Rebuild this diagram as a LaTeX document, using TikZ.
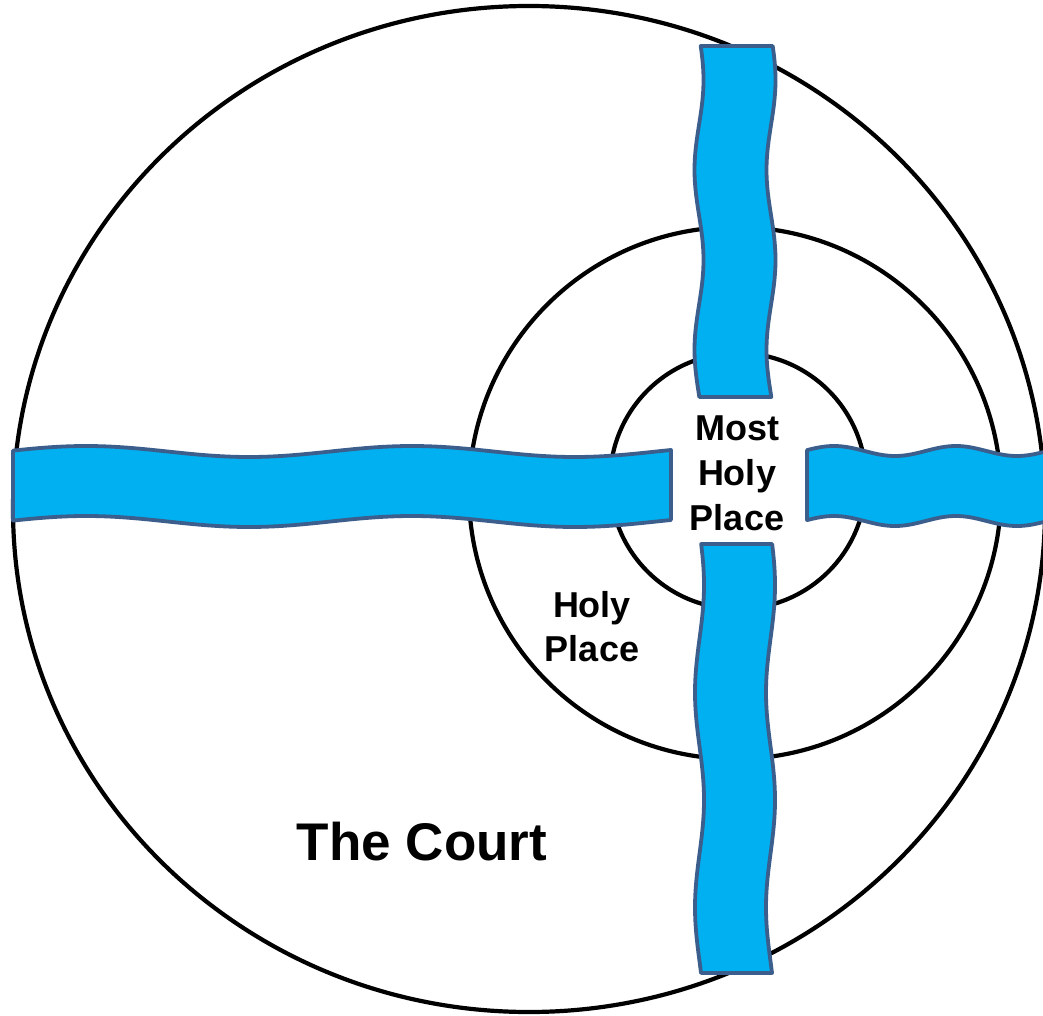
\documentclass[tikz,border=0pt]{standalone}
\usepackage{fontspec}
\setmainfont{Liberation Sans}
\definecolor{bandfill}{HTML}{00B0F0}
\definecolor{bandline}{RGB}{59,94,140}
\begin{document}
\begin{tikzpicture}[x=1pt,y=-1pt,
  ring/.style={draw=black,line width=4.2pt},
  band/.style={fill=bandfill,draw=bandline,line width=3.8pt,line join=round},
  lbl/.style={font=\bfseries\fontsize{36}{45}\selectfont,anchor=base,inner sep=0pt},
  big/.style={font=\bfseries\fontsize{53}{60}\selectfont,anchor=base,inner sep=0pt}]
\useasboundingbox (0,0) rectangle (1043,1016);
\clip (0,0) rectangle (1043,1016);
\fill[white] (0,0) rectangle (1043,1016);
% rings
\draw[ring] (529,509) ellipse [x radius=516, y radius=503];
\draw[ring] (735,493) circle [radius=266];
\draw[ring] (738,481) circle [radius=128];
% left band
\draw[band] plot[domain=13:671,samples=90,smooth] (\x,{451.5-5.5*cos((\x-86)*1.104294)})
  -- plot[domain=671:13,samples=90,smooth] (\x,{521.5-5.5*cos((\x-86)*1.104294)}) -- cycle;
% right band
\draw[band] plot[domain=807:1060,samples=80,smooth] (\x,{451-5*cos((\x-834)*2.95082)})
  -- plot[domain=1060:807,samples=80,smooth] (\x,{521-5*cos((\x-834)*2.95082)}) -- cycle;
% top band
\draw[band] plot[domain=46:397,samples=80,smooth] ({699+4.5*cos((\x-80)*2)},\x)
  -- plot[domain=397:46,samples=80,smooth] ({771+4.5*cos((\x-80)*2)},\x) -- cycle;
% bottom band
\draw[band] plot[domain=544:973,samples=90,smooth] ({699.5+4.5*cos((\x-585)*1.674419)},\x)
  -- plot[domain=973:544,samples=90,smooth] ({770.5+4.5*cos((\x-585)*1.674419)},\x) -- cycle;
% labels
\node[lbl] (mh1) at (737,440) {Most};
\node[lbl] (mh2) at (737,485) {Holy};
\node[lbl] (mh3) at (737,530) {Place};
\node[lbl] (hp1) at (592,617) {Holy};
\node[lbl] (hp2) at (592,661) {Place};
\node[big] (court) at (422,860) {The Court};
\end{tikzpicture}
\end{document}
